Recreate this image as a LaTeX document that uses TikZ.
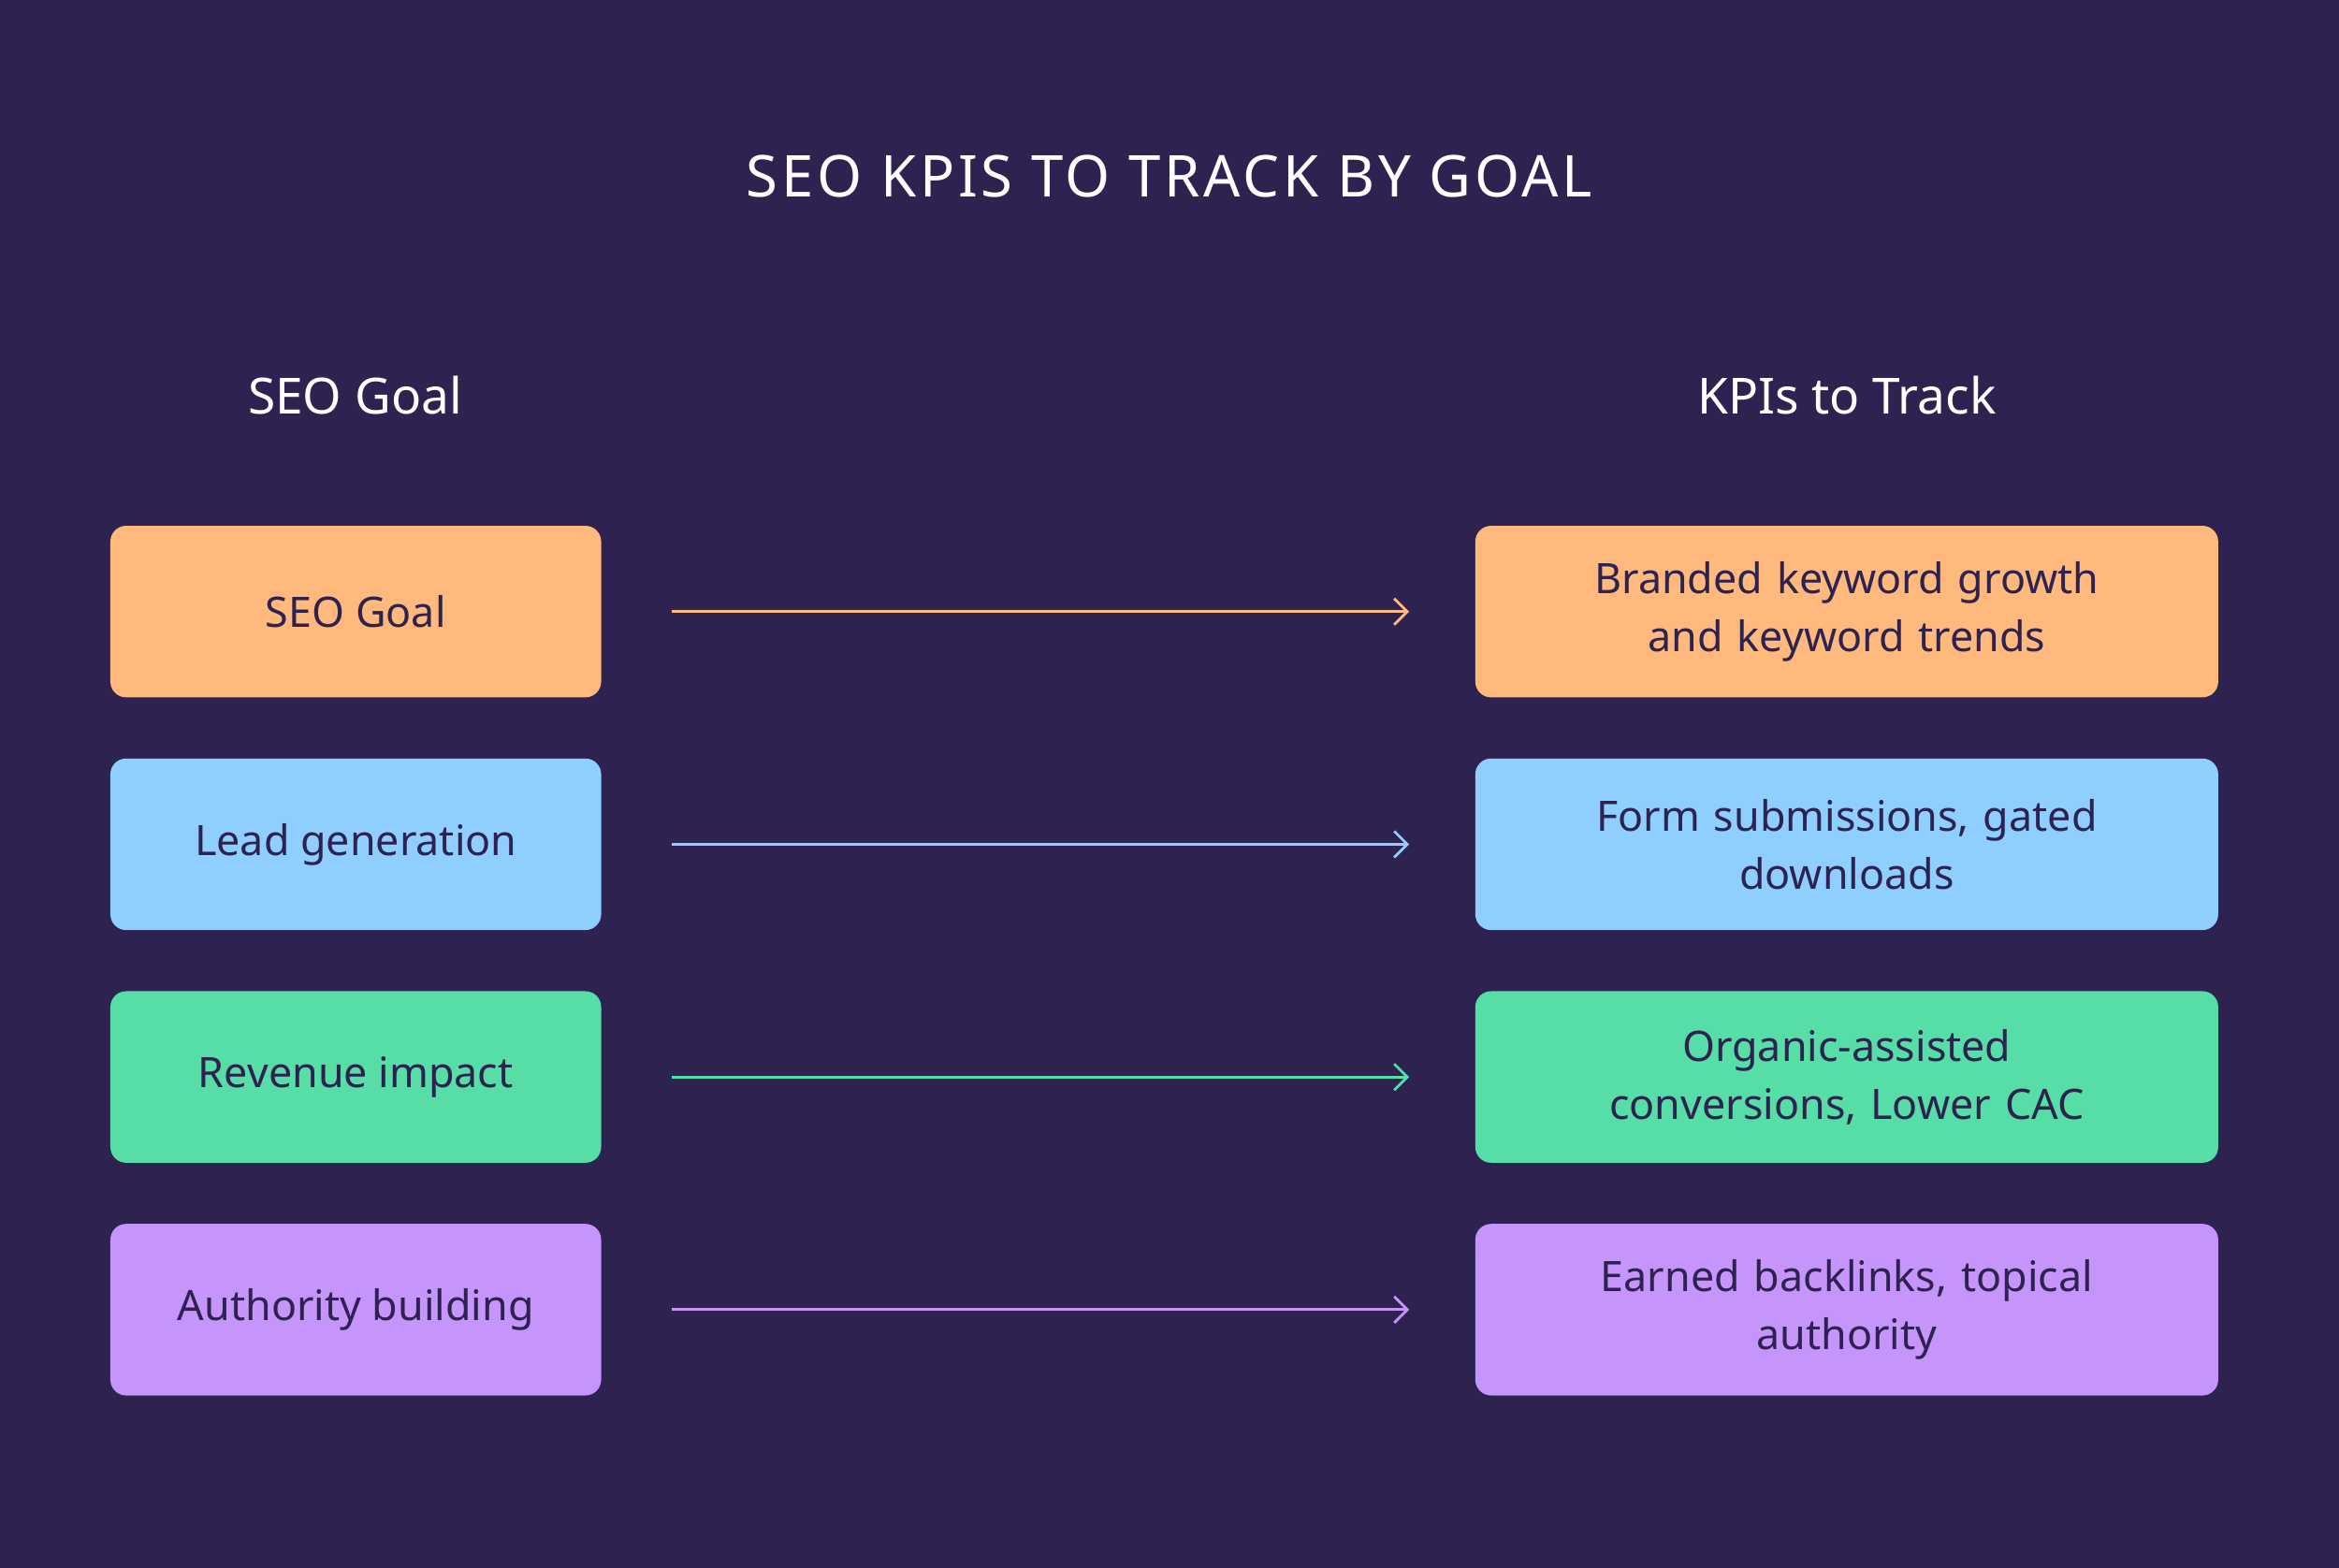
\documentclass[tikz,border=0pt]{standalone}
\usepackage{fontspec}
\setmainfont{Noto Sans}
\usetikzlibrary{arrows.meta}
\definecolor{bgpurple}{HTML}{2E2350}
\definecolor{boxorange}{HTML}{FFB97D}
\definecolor{boxblue}{HTML}{8FCFFF}
\definecolor{boxgreen}{HTML}{57DDA6}
\definecolor{boxviolet}{HTML}{C595FB}
\tikzset{
  goalbox/.style={rounded corners=6pt, minimum width=6.58cm, minimum height=2.3cm,
    font=\fontsize{16}{22}\selectfont\bfseries, text=bgpurple, align=center},
  kpibox/.style={goalbox, minimum width=9.96cm, text width=8.6cm},
  flowarrow/.style={line width=1pt, -{Straight Barb[length=5pt,width=10pt]}},
}
\begin{document}
\begin{tikzpicture}
% background
\fill[bgpurple] (0,0) rectangle (31.36,-21.02);
% title and column headers
\node[text=white, font=\fontsize{22}{26}\selectfont\bfseries] (title) at (15.68,-2.36)
  {\addfontfeature{LetterSpace=6}SEO KPIS TO TRACK BY GOAL};
\node[text=white, font=\fontsize{19}{23}\selectfont] (goalhead) at (4.76,-5.3) {SEO Goal};
\node[text=white, font=\fontsize{19}{23}\selectfont] (kpihead) at (24.76,-5.3) {KPIs to Track};
% rows
\foreach \i/\c/\goal/\kpi in {
  1/boxorange/{SEO Goal}/{Branded keyword growth\\and keyword trends},
  2/boxblue/{Lead generation}/{Form submissions, gated\\downloads},
  3/boxgreen/{Revenue impact}/{Organic-assisted\\conversions, Lower CAC},
  4/boxviolet/{Authority building}/{Earned backlinks, topical\\authority}}{
  \node[goalbox, fill=\c] (goal\i) at (4.77,{-8.2-(\i-1)*3.12}) {\goal};
  \node[kpibox, fill=\c] (kpi\i) at (24.76,{-8.2-(\i-1)*3.12}) {\kpi};
  \draw[flowarrow, \c] ([xshift=0.94cm]goal\i.east) -- ([xshift=-0.88cm]kpi\i.west);
}
\end{tikzpicture}
\end{document}
